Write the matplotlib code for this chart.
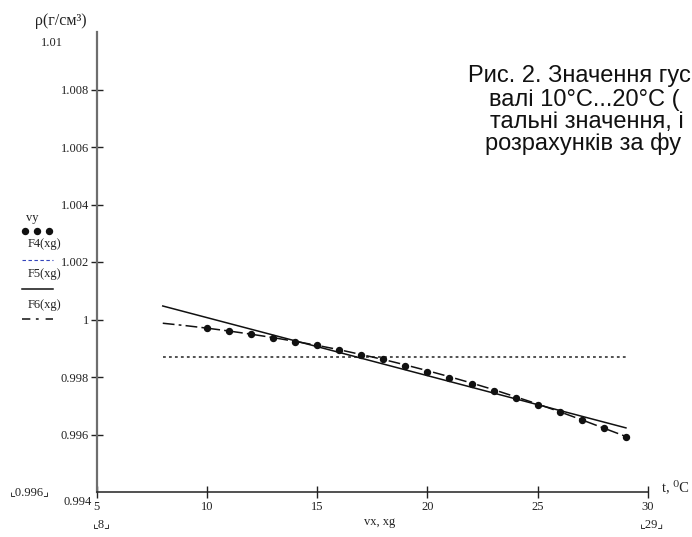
import matplotlib
matplotlib.use('Agg')
import matplotlib.pyplot as plt
from matplotlib.lines import Line2D

plt.rcParams['font.family'] = ['Liberation Serif', 'DejaVu Serif', 'DejaVu Sans']
plt.rcParams['lines.scale_dashes'] = False

# measured points (t, density)
vx = [10, 11, 12, 13, 14, 15, 16, 17, 18, 19, 20, 21, 22, 23, 24, 25, 26, 27, 28, 29]
vy = [0.99969, 0.99961, 0.99948, 0.99935, 0.99923, 0.99911, 0.99893, 0.99876, 0.99861, 0.99840,
      0.99818, 0.99797, 0.99776, 0.99752, 0.99726, 0.99702, 0.99678, 0.99652, 0.99622, 0.99592]

# fitted curves
xg_lin = [8, 29]
f4 = [0.99869, 0.99869]
f5 = [1.00047, 0.99623]
xg = [8, 9, 10, 11, 12, 13, 14, 15, 16, 17, 18, 19, 20, 21, 22, 23, 24, 25, 26, 27, 28, 29]
f6 = [0.99987, 0.99979, 0.99970, 0.99960, 0.99949, 0.99937, 0.99924, 0.99910, 0.99895, 0.99878, 0.99861,
      0.99842, 0.99822, 0.99801, 0.99779, 0.99756, 0.99731, 0.99706, 0.99679, 0.99651, 0.99622, 0.99593]

xticks = [5, 10, 15, 20, 25, 30]
yticks = [0.996, 0.998, 1.0, 1.002, 1.004, 1.006, 1.008]
ytick_labels = ['0.996', '0.998', '1', '1.002', '1.004', '1.006', '1.008']

caption = ['Рис. 2. Значення гус',
           'валі 10°C...20°C (',
           'тальні значення, і',
           'розрахунків за фу']

W, H = 692, 537
fig = plt.figure(figsize=(W / 100, H / 100), dpi=100)


def px(x, y):
    return x / W, 1 - y / H


ax = fig.add_axes([96.6 / W, 1 - 492 / H, (648 - 96.6) / W, (492 - 32) / H])
ax.plot(xg_lin, f4, color='#222222', lw=1.1, dashes=(2.0, 2.3))
ax.plot(xg_lin, f5, color='#111111', lw=1.1)
ax.plot(xg, f6, color='#111111', lw=1.1, dashes=(8.5, 3, 2, 3))
ax.plot(vx, vy, 'o', color='#111111', ms=4.3, ls='none')

ax.set_xlim(5, 30)
ax.set_ylim(0.994, 1.01)
ax.set_xticks(xticks)
ax.set_yticks(yticks)
ax.set_yticklabels(ytick_labels)
for s in ['top', 'right']:
    ax.spines[s].set_visible(False)
ax.spines['left'].set_color('#6e6e6e')
ax.spines['left'].set_linewidth(1.6)
ax.spines['bottom'].set_color('#222222')
ax.spines['bottom'].set_linewidth(1.1)
ax.tick_params(direction='inout', length=9, width=1, labelsize=9, colors='#222222')
ax.tick_params(axis='y', pad=1)
ax.tick_params(axis='x', pad=2)

corner_fonts = ['Liberation Serif', 'DejaVu Sans']

# axis annotations
fig.text(*px(61, 21), 'ρ(г/см³)', fontsize=11.5, ha='center', va='center', color='#222222')
fig.text(*px(52, 43), '1.01', fontsize=9, ha='center', va='center', color='#222222')
fig.text(*px(92, 502), '0.994', fontsize=9, ha='right', va='center', color='#222222')
fig.text(*px(30, 492), '⌞0.996⌟', fontsize=9, ha='center', va='center', color='#222222',
         family=corner_fonts)
fig.text(*px(102, 524), '⌞8⌟', fontsize=9, ha='center', va='center', color='#222222',
         family=corner_fonts)
fig.text(*px(380, 522), 'vx, xg', fontsize=9, ha='center', va='center', color='#222222')
fig.text(*px(652, 524), '⌞29⌟', fontsize=9, ha='center', va='center', color='#222222',
         family=corner_fonts)
fig.text(*px(662, 487), 't, ⁰C', fontsize=10.5, ha='left', va='center', color='#222222')

# legend at left
fig.text(*px(32, 218), 'vy', fontsize=9, ha='center', va='center', color='#222222')
for dx in [25, 36.7, 49]:
    fig.add_artist(Line2D([dx / W], [1 - 231 / H], marker='o', ms=4.3, color='#111111', ls='none'))
fig.text(*px(44, 244), 'F4(xg)', fontsize=9, ha='center', va='center', color='#222222')
fig.add_artist(Line2D([22 / W, 53 / W], [1 - 260 / H] * 2, color='#3344bb', lw=0.8, dashes=(2.5, 1.8)))
fig.text(*px(44, 274), 'F5(xg)', fontsize=9, ha='center', va='center', color='#222222')
fig.add_artist(Line2D([22 / W, 53 / W], [1 - 289 / H] * 2, color='#111111', lw=1.1))
fig.text(*px(44, 305), 'F6(xg)', fontsize=9, ha='center', va='center', color='#222222')
fig.add_artist(Line2D([22 / W, 53 / W], [1 - 319 / H] * 2, color='#111111', lw=1.1, dashes=(6, 4, 2, 5)))

# caption fragment on the right (page edge cuts the rest)
cap_x = [468, 489, 490, 485]
cap_y = [76, 100, 122, 144]
for t, cx, cy in zip(caption, cap_x, cap_y):
    fig.text(*px(cx, cy), t, fontsize=17, ha='left', va='center', color='#111111',
             family=['Liberation Sans', 'DejaVu Sans'])

fig.savefig('out.png', dpi=100)
